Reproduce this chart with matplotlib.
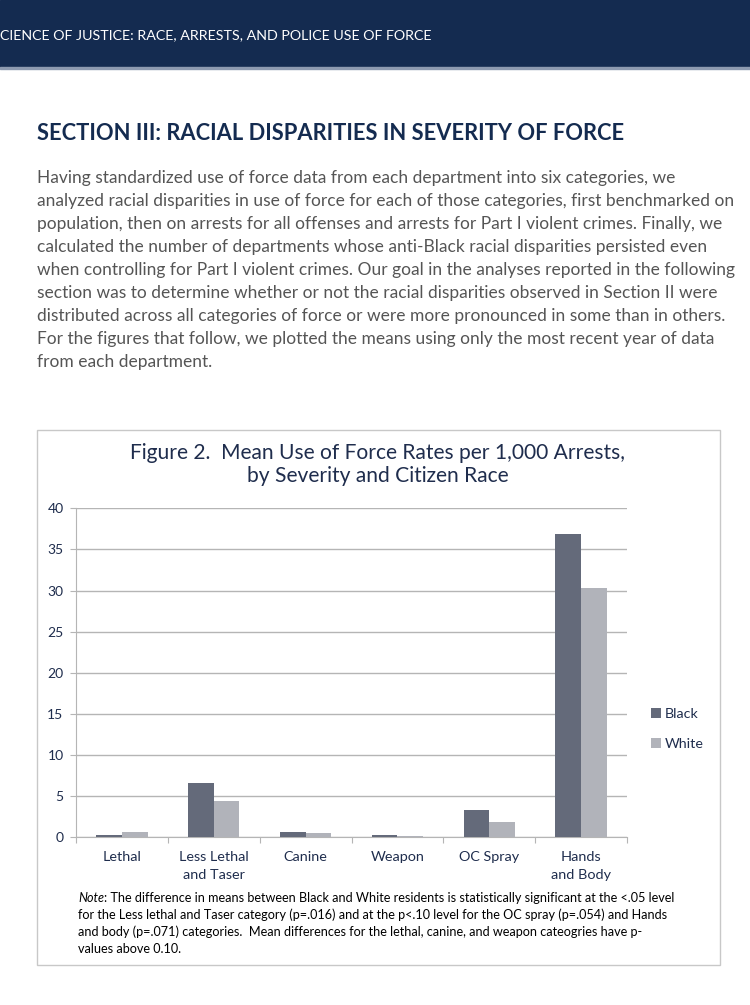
import matplotlib
matplotlib.use("Agg")
import matplotlib.pyplot as plt
from matplotlib.patches import Rectangle
import numpy as np

categories = ["Lethal", "Less Lethal\nand Taser", "Canine", "Weapon", "OC Spray", "Hands\nand Body"]
black_vals = [0.33, 6.6, 0.65, 0.28, 3.3, 36.9]
white_vals = [0.6, 4.4, 0.57, 0.12, 1.8, 30.3]
series_names = ["Black", "White"]
y_ticks = [0, 5, 10, 15, 20, 25, 30, 35, 40]

header_text = "CIENCE OF JUSTICE: RACE, ARRESTS, AND POLICE USE OF FORCE"
section_title = "SECTION III: RACIAL DISPARITIES IN SEVERITY OF FORCE"
body_lines = [
    "Having standardized use of force data from each department into six categories, we",
    "analyzed racial disparities in use of force for each of those categories, first benchmarked on",
    "population, then on arrests for all offenses and arrests for Part I violent crimes. Finally, we",
    "calculated the number of departments whose anti-Black racial disparities persisted even",
    "when controlling for Part I violent crimes. Our goal in the analyses reported in the following",
    "section was to determine whether or not the racial disparities observed in Section II were",
    "distributed across all categories of force or were more pronounced in some than in others.",
    "For the figures that follow, we plotted the means using only the most recent year of data",
    "from each department.",
]
chart_title_lines = ["Figure 2.  Mean Use of Force Rates per 1,000 Arrests,",
                     "by Severity and Citizen Race"]
note_first = "Note"
note_lines = [
    ": The difference in means between Black and White residents is statistically significant at the <.05 level",
    "for the Less lethal and Taser category (p=.016) and at the p<.10 level for the OC spray (p=.054) and Hands",
    "and body (p=.071) categories.  Mean differences for the lethal, canine, and weapon cateogries have p-",
    "values above 0.10.",
]

W, H = 750, 1005
fig = plt.figure(figsize=(W / 100, H / 100), dpi=100)
fig.patch.set_facecolor("white")

def fx(x):
    return x / W

def fy(y):
    return 1 - y / H

NAVY = "#142b50"
TXT = "#1f2d4d"
BODY = "#555555"
C_BLACK = "#646a7a"
C_WHITE = "#b1b3ba"
GRID = "#b5b5b5"

# header band
fig.add_artist(Rectangle((0, fy(67)), 1, 67 / H, transform=fig.transFigure, color=NAVY, zorder=0))
fig.add_artist(Rectangle((0, fy(69)), 1, 2 / H, transform=fig.transFigure, color="#8d9ab0", zorder=0))
fig.text(fx(0), fy(35), header_text, color="white", fontsize=10.3, family="Lato",
         va="center", ha="left")

# section title
fig.text(fx(37), fy(133), section_title, color=NAVY, fontsize=15.75, family="Lato",
         fontweight="bold", va="center", ha="left")

# body text
for i, line in enumerate(body_lines):
    fig.text(fx(37), fy(178 + 23 * i), line, color=BODY, fontsize=12.55, family="Lato",
             va="center", ha="left")

# chart box
fig.add_artist(Rectangle((fx(37), fy(965)), (720 - 37) / W, (965 - 430) / H,
                         transform=fig.transFigure, fill=False, edgecolor="#c8c8c8", lw=1.0))

for i, line in enumerate(chart_title_lines):
    fig.text(fx(378), fy(453 + 23 * i), line, color=TXT, fontsize=15.1, family="Lato",
             ha="center", va="center")

# axes
ax_left, ax_right, ax_bottom, ax_top = 76, 627, 837.3, 508.3
ax = fig.add_axes([fx(ax_left), fy(ax_bottom), (ax_right - ax_left) / W, (ax_bottom - ax_top) / H])
x = np.arange(len(categories))
bw = 0.28
ax.bar(x - bw / 2, black_vals, width=bw, color=C_BLACK, label=series_names[0], zorder=3)
ax.bar(x + bw / 2, white_vals, width=bw, color=C_WHITE, label=series_names[1], zorder=3)
ax.set_xlim(-0.5, len(categories) - 0.5)
ax.set_ylim(0, 40)
ax.set_yticks(y_ticks)
ax.set_yticklabels([str(v) for v in y_ticks])
ax.yaxis.grid(True, color=GRID, lw=1.0, zorder=0)
ax.set_axisbelow(True)
for s in ["top", "right"]:
    ax.spines[s].set_visible(False)
ax.spines["left"].set_color(GRID)
ax.spines["bottom"].set_color(GRID)
ax.set_xticks(np.arange(len(categories) + 1) - 0.5)
ax.set_xticklabels([])
ax.set_xticks(x, minor=True)
ax.set_xticklabels(categories, minor=True, fontsize=10.4, color=TXT, family="Lato", linespacing=1.55)
ax.tick_params(axis="x", which="major", length=4, color=GRID, direction="out")
ax.tick_params(axis="x", which="minor", length=0, pad=10)
ax.tick_params(axis="y", length=4, color=GRID, labelsize=10, labelcolor=TXT, pad=5)
for lbl in ax.get_yticklabels():
    lbl.set_family("Lato")

leg = fig.legend(handles=ax.patches[:1] + ax.patches[len(categories):len(categories) + 1],
                 labels=series_names, loc="center left",
                 bbox_to_anchor=(fx(638), fy(729)), frameon=False,
                 handlelength=0.7, handleheight=0.7, handletextpad=0.25, labelspacing=1.3,
                 prop={"family": "Lato", "size": 10.3})
for t in leg.get_texts():
    t.set_color(TXT)

# note
t0 = fig.text(fx(78), fy(902), note_first, fontsize=9.1, family="Lato", style="italic",
              color="black", va="baseline", ha="left")
fig.canvas.draw()
bb = t0.get_window_extent()
for i, line in enumerate(note_lines):
    xx = bb.x1 / W if i == 0 else fx(78)
    fig.text(xx, fy(902 + 17 * i), line, fontsize=9.1, family="Lato", color="black",
             va="baseline", ha="left")

fig.savefig("out.png", dpi=100)
